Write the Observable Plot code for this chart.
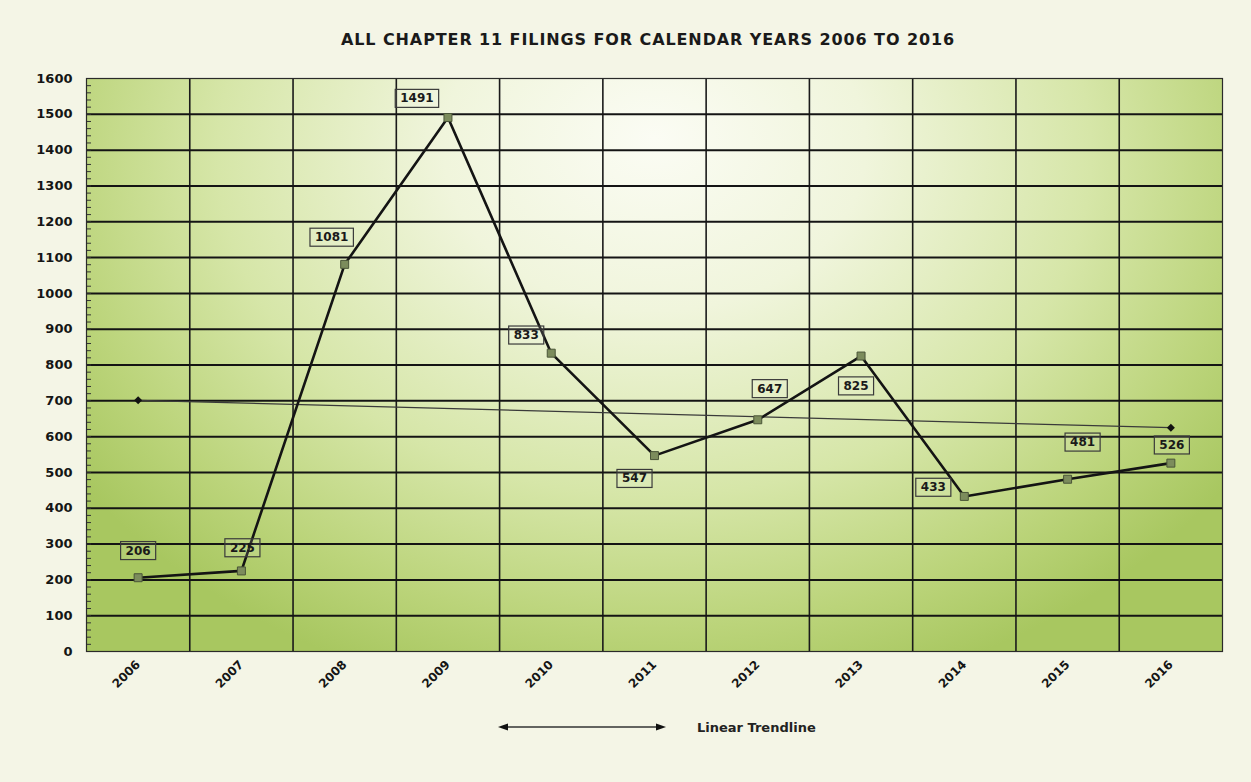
<!DOCTYPE html>
<html>
<head>
<meta charset="utf-8">
<script src="https://cdn.jsdelivr.net/npm/d3@7"></script>
<script src="https://cdn.jsdelivr.net/npm/@observablehq/plot@0.6"></script>
<style>
  html, body { margin: 0; padding: 0; background: #f4f5e6; }
  #wrap { position: relative; width: 1251px; height: 782px; overflow: hidden; background: #f4f5e6; }
  #title { position: absolute; left: 0; top: 30px; width: 1296px; text-align: center; letter-spacing: 0.9px;
           font-family: "DejaVu Sans", sans-serif; font-weight: bold; font-size: 16px; color: #1a1a1a; }
  #chart { position: absolute; left: 0; top: 0; }
  #legend { position: absolute; left: 0; top: 707px; }
</style>
</head>
<body>
<div id="wrap">
  <div id="title">ALL CHAPTER 11 FILINGS FOR CALENDAR YEARS 2006 TO 2016</div>
  <div id="chart"></div>
  <svg id="legend" width="1251" height="40"></svg>
</div>
<script>
// ---- data ----
const years = [2006, 2007, 2008, 2009, 2010, 2011, 2012, 2013, 2014, 2015, 2016];
const filings = [206, 225, 1081, 1491, 833, 547, 647, 825, 433, 481, 526];
const yTicks = d3.range(0, 1601, 100);
const yMinorTicks = d3.range(0, 1601, 20);
// label placement offsets (pixels, relative to the point)
const labelDx = [0, 1, -13, -31, -25, -20, 12, -5, -31, 15, 1];
const labelDy = [-27, -23, -27, -19, -18, 23, -31, 30, -9, -37, -18];
const legendText = "Linear Trendline";

// ---- derived ----
const data = years.map((year, i) => ({year, value: filings[i], label: String(filings[i]), dx: labelDx[i], dy: labelDy[i]}));
const mx = d3.mean(years), my = d3.mean(filings);
const slope = d3.sum(years, (x, i) => (x - mx) * (filings[i] - my)) / d3.sum(years, x => (x - mx) ** 2);
const trend = [years[0], years[years.length - 1]].map(x => ({year: x, value: my + slope * (x - mx)}));
const boundaries = years.slice(1).map(y => y - 0.5);

const FONT = "DejaVu Sans";
const ml = 86, mr = 29, W = 1251;
const pxPerYear = (W - ml - mr) / years.length;

const chart = Plot.plot({
  width: W,
  height: 700,
  marginLeft: ml,
  marginRight: mr,
  marginTop: 78,
  marginBottom: 49,
  style: {fontFamily: FONT, fontWeight: "bold", fontSize: "12px", color: "#151515", background: "transparent", overflow: "visible"},
  x: {domain: [years[0] - 0.5, years[years.length - 1] + 0.5], label: null},
  y: {domain: [0, 1600], label: null},
  marks: [
    Plot.frame({fill: "url(#plotBg)", stroke: "none"}),
    Plot.ruleX(boundaries, {stroke: "#1a1a1a", strokeWidth: 1.6}),
    Plot.ruleY(yTicks.slice(1, -1), {stroke: "#141414", strokeWidth: 2}),
    Plot.ruleY(yMinorTicks, {x1: years[0] - 0.5, x2: years[0] - 0.5 + 5 / pxPerYear, stroke: "#333", strokeWidth: 1}),
    Plot.frame({stroke: "#2a2a2a", strokeWidth: 1.2}),
    Plot.axisY({ticks: yTicks, tickFormat: d => String(d), tickSize: 0, tickPadding: 14, fontSize: 13, label: null}),
    Plot.axisX({ticks: years, tickFormat: d => String(d), tickSize: 0, tickPadding: 11, tickRotate: -45, fontSize: 12, label: null}),
    Plot.line(trend, {x: "year", y: "value", stroke: "#3a3a3a", strokeWidth: 1.3}),
    Plot.dot(trend, {x: "year", y: "value", symbol: "diamond2", r: 3.6, fill: "#111", stroke: "none"}),
    Plot.line(data, {x: "year", y: "value", stroke: "#141414", strokeWidth: 2.6}),
    Plot.dot(data, {x: "year", y: "value", symbol: "square", r: 4.5, fill: "#7c8c5c", stroke: "#4a5538", strokeWidth: 1}),
    Plot.text(data, {x: "year", y: "value", text: "label", fontSize: 12, fill: "#1a1a1a", className: "vlabel"})
  ]
});
document.getElementById("chart").appendChild(chart);

// gradient background for plot area
const ns = "http://www.w3.org/2000/svg";
const defs = document.createElementNS(ns, "defs");
defs.innerHTML = `
  <radialGradient id="plotBg" gradientUnits="objectBoundingBox" cx="0.5" cy="0.15" r="0.62" fx="0.5" fy="0.12"
      gradientTransform="translate(0.5,0.15) scale(1,1.55) translate(-0.5,-0.15)">
    <stop offset="0" stop-color="#fbfcf4"/>
    <stop offset="0.3" stop-color="#f0f5dc"/>
    <stop offset="0.62" stop-color="#d6e6a8"/>
    <stop offset="0.85" stop-color="#bbd47a"/>
    <stop offset="1" stop-color="#a8c760"/>
  </radialGradient>`;
chart.insertBefore(defs, chart.firstChild);

// boxed value labels: offset each label and draw a box behind it
const labelGroup = chart.querySelector("g.vlabel") || [...chart.querySelectorAll("g[aria-label='text']")].pop();
const texts = labelGroup.querySelectorAll("text");
texts.forEach((t, i) => {
  const d = data[i];
  const baseT = t.getAttribute("transform") || "";
  t.setAttribute("transform", baseT + ` translate(${d.dx},${d.dy})`);
  const bb = t.getBBox();
  const r = document.createElementNS(ns, "rect");
  const padX = 5, padY = 3;
  r.setAttribute("x", bb.x - padX);
  r.setAttribute("y", bb.y - padY + 1);
  r.setAttribute("width", bb.width + 2 * padX);
  r.setAttribute("height", bb.height + 2 * padY - 2);
  r.setAttribute("transform", t.getAttribute("transform"));
  r.setAttribute("fill", "rgba(255,255,255,0.12)");
  r.setAttribute("stroke", "#3a3a3a");
  r.setAttribute("stroke-width", "1.2");
  labelGroup.insertBefore(r, t);
});

// legend
const leg = d3.select("#legend");
const ly = 20;
leg.append("line").attr("x1", 506).attr("x2", 659).attr("y1", ly).attr("y2", ly).attr("stroke", "#333").attr("stroke-width", 1.3);
leg.append("path").attr("d", `M498,${ly} L508,${ly - 3.5} L508,${ly + 3.5} Z`).attr("fill", "#111");
leg.append("path").attr("d", `M666,${ly} L656,${ly - 3.5} L656,${ly + 3.5} Z`).attr("fill", "#111");
leg.append("text").attr("x", 697).attr("y", ly + 4.5).attr("font-family", FONT).attr("font-weight", "bold")
  .attr("font-size", 13).attr("fill", "#222").text(legendText);
</script>
</body>
</html>
